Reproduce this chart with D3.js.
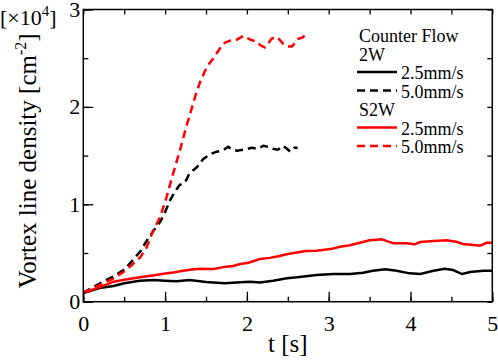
<!DOCTYPE html>
<html>
<head>
<meta charset="utf-8">
<script src="https://cdn.jsdelivr.net/npm/d3@7"></script>
<style>
  body { margin: 0; background: #fff; }
  svg text { font-family: "Liberation Serif", "Times New Roman", serif; fill: #000; }
</style>
</head>
<body>
<div id="container"></div>
<script>
// data (values in units of 1e4 cm^-2)
const t2w25 = [0, 0.1, 0.2, 0.37, 0.5, 0.69, 0.86, 1.0, 1.14, 1.3, 1.5, 1.73, 1.92, 2.04, 2.16, 2.32, 2.49, 2.61, 2.75, 2.85, 3.06, 3.26, 3.42, 3.54, 3.69, 3.83, 3.99, 4.12, 4.28, 4.42, 4.52, 4.63, 4.73, 4.89, 5.0];
const v2w25 = [0.09, 0.115, 0.14, 0.161, 0.19, 0.215, 0.223, 0.216, 0.21, 0.223, 0.202, 0.189, 0.2, 0.205, 0.197, 0.215, 0.24, 0.25, 0.265, 0.274, 0.284, 0.284, 0.298, 0.318, 0.332, 0.318, 0.291, 0.284, 0.318, 0.339, 0.325, 0.284, 0.305, 0.318, 0.318];

const t2w50 = [0, 0.12, 0.25, 0.37, 0.5, 0.61, 0.7, 0.77, 0.86, 0.94, 1.0, 1.06, 1.12, 1.18, 1.24, 1.3, 1.36, 1.41, 1.46, 1.51, 1.57, 1.63, 1.7, 1.77, 1.83, 1.88, 1.96, 2.06, 2.13, 2.2, 2.26, 2.32, 2.38, 2.44, 2.49, 2.53, 2.58, 2.62];
const v2w50 = [0.09, 0.15, 0.21, 0.26, 0.33, 0.43, 0.52, 0.62, 0.73, 0.82, 0.92, 1.04, 1.13, 1.2, 1.22, 1.32, 1.36, 1.4, 1.46, 1.49, 1.52, 1.54, 1.55, 1.59, 1.56, 1.55, 1.56, 1.58, 1.57, 1.6, 1.59, 1.57, 1.56, 1.6, 1.57, 1.54, 1.58, 1.58];

const ts2w25 = [0, 0.1, 0.2, 0.37, 0.5, 0.69, 0.85, 1.0, 1.1, 1.22, 1.33, 1.43, 1.59, 1.75, 1.83, 1.92, 2.02, 2.16, 2.28, 2.4, 2.5, 2.61, 2.72, 2.85, 3.02, 3.14, 3.26, 3.38, 3.5, 3.58, 3.65, 3.72, 3.79, 3.95, 4.05, 4.12, 4.28, 4.44, 4.56, 4.64, 4.75, 4.85, 4.93, 5.0];
const vs2w25 = [0.09, 0.12, 0.15, 0.205, 0.225, 0.25, 0.27, 0.29, 0.3, 0.318, 0.33, 0.339, 0.336, 0.36, 0.366, 0.387, 0.4, 0.438, 0.45, 0.469, 0.49, 0.505, 0.52, 0.523, 0.54, 0.565, 0.579, 0.605, 0.63, 0.635, 0.64, 0.62, 0.6, 0.6, 0.589, 0.613, 0.623, 0.63, 0.615, 0.592, 0.585, 0.575, 0.605, 0.605];

const ts2w50 = [0, 0.12, 0.25, 0.37, 0.5, 0.61, 0.7, 0.77, 0.86, 0.94, 1.02, 1.1, 1.18, 1.26, 1.33, 1.38, 1.43, 1.51, 1.59, 1.67, 1.71, 1.79, 1.875, 1.96, 2.04, 2.12, 2.17, 2.22, 2.26, 2.3, 2.36, 2.4, 2.44, 2.5, 2.55, 2.59, 2.63, 2.67, 2.71];
const vs2w50 = [0.09, 0.14, 0.19, 0.24, 0.31, 0.39, 0.46, 0.55, 0.74, 0.87, 1.08, 1.32, 1.55, 1.8, 2.0, 2.14, 2.26, 2.41, 2.5, 2.6, 2.65, 2.68, 2.69, 2.73, 2.69, 2.67, 2.63, 2.61, 2.65, 2.7, 2.72, 2.69, 2.65, 2.62, 2.62, 2.66, 2.7, 2.71, 2.73];

const xMajor = [0, 1, 2, 3, 4, 5];
const yMajor = [0, 1, 2, 3];

const series = [
  { t: t2w25, v: v2w25, color: "#000", dash: null },
  { t: t2w50, v: v2w50, color: "#000", dash: "8,5" },
  { t: ts2w25, v: vs2w25, color: "#f00", dash: null },
  { t: ts2w50, v: vs2w50, color: "#f00", dash: "8,5" }
];

const width = 498, height = 360;
const margin = { top: 9.5, right: 5.7, bottom: 58.3, left: 83.3 };

const svg = d3.select("#container").append("svg")
  .attr("width", width).attr("height", height);

const x = d3.scaleLinear().domain([0, 5]).range([margin.left, width - margin.right]);
const y = d3.scaleLinear().domain([0, 3]).range([height - margin.bottom, margin.top]);

const halfX = d3.range(0, 5.01, 0.5);
const halfY = d3.range(0, 3.01, 0.5);

// curves
const line = d3.line().x(d => x(d[0])).y(d => y(d[1]));
series.forEach(s => {
  svg.append("path")
    .datum(s.t.map((tt, i) => [tt, s.v[i]]))
    .attr("fill", "none")
    .attr("stroke", s.color)
    .attr("stroke-width", 2.5)
    .attr("stroke-dasharray", s.dash)
    .attr("d", line);
});

// axes - ticks point inward
function styleAxis(g) {
  g.select(".domain").remove();
  g.selectAll(".tick line").attr("stroke", "#000").attr("stroke-width", 1.3);
  g.selectAll(".tick text").attr("font-size", 22).attr("fill", "#000")
    .style("font-family", "'Liberation Serif', 'Times New Roman', serif");
}

svg.append("g").attr("transform", `translate(0,${y(0)})`)
  .call(d3.axisBottom(x).tickValues(halfX).tickSize(-5).tickFormat(""))
  .call(styleAxis);
svg.append("g").attr("transform", `translate(0,${y(0)})`)
  .call(d3.axisBottom(x).tickValues(xMajor).tickSize(-10).tickPadding(14).tickFormat(d3.format("d")))
  .call(styleAxis);

svg.append("g").attr("transform", `translate(${x(0)},0)`)
  .call(d3.axisLeft(y).tickValues(halfY).tickSize(-5).tickFormat(""))
  .call(styleAxis);
svg.append("g").attr("transform", `translate(${x(0)},0)`)
  .call(d3.axisLeft(y).tickValues(yMajor).tickSize(-10).tickPadding(3).tickFormat(d3.format("d")))
  .call(styleAxis);

svg.append("g").attr("transform", `translate(0,${y(3)})`)
  .call(d3.axisTop(x).tickValues(halfX).tickSize(-5).tickFormat(""))
  .call(styleAxis);
svg.append("g").attr("transform", `translate(${x(5)},0)`)
  .call(d3.axisRight(y).tickValues(halfY).tickSize(-5).tickFormat(""))
  .call(styleAxis);

// frame
svg.append("rect")
  .attr("x", x(0)).attr("y", y(3))
  .attr("width", x(5) - x(0)).attr("height", y(0) - y(3))
  .attr("fill", "none").attr("stroke", "#000").attr("stroke-width", 1.5);

// axis titles
svg.append("text")
  .attr("x", (x(0) + x(5)) / 2).attr("y", 352)
  .attr("text-anchor", "middle").attr("font-size", 25)
  .text("t [s]");

const yt = svg.append("text")
  .attr("transform", "translate(36,161) rotate(-90)")
  .attr("text-anchor", "middle").attr("font-size", 25);
yt.append("tspan").text("Vortex line density [cm");
yt.append("tspan").attr("font-size", 16).attr("dy", -10).text("-2");
yt.append("tspan").attr("dy", 10).text("]");

const unit = svg.append("text").attr("x", 0).attr("y", 25).attr("font-size", 22);
unit.append("tspan").text("[×10");
unit.append("tspan").attr("font-size", 15).attr("dy", -9).text("4");
unit.append("tspan").attr("dy", 9).text("]");

// legend
const legendRows = [
  { label: "Counter Flow", y: 42 },
  { label: "2W", y: 60.5 },
  { label: "2.5mm/s", y: 79, s: series[0] },
  { label: "5.0mm/s", y: 97.5, s: series[1] },
  { label: "S2W", y: 116 },
  { label: "2.5mm/s", y: 134.5, s: series[2] },
  { label: "5.0mm/s", y: 153, s: series[3] }
];
const legend = svg.append("g");
legendRows.forEach(r => {
  if (r.s) {
    legend.append("line")
      .attr("x1", 357).attr("x2", 397)
      .attr("y1", r.y - 7).attr("y2", r.y - 7)
      .attr("stroke", r.s.color).attr("stroke-width", 2.5)
      .attr("stroke-dasharray", r.s.dash);
    legend.append("text").attr("x", 401).attr("y", r.y).attr("font-size", 18).text(r.label);
  } else {
    legend.append("text").attr("x", 359).attr("y", r.y).attr("font-size", 18).text(r.label);
  }
});
</script>
</body>
</html>
